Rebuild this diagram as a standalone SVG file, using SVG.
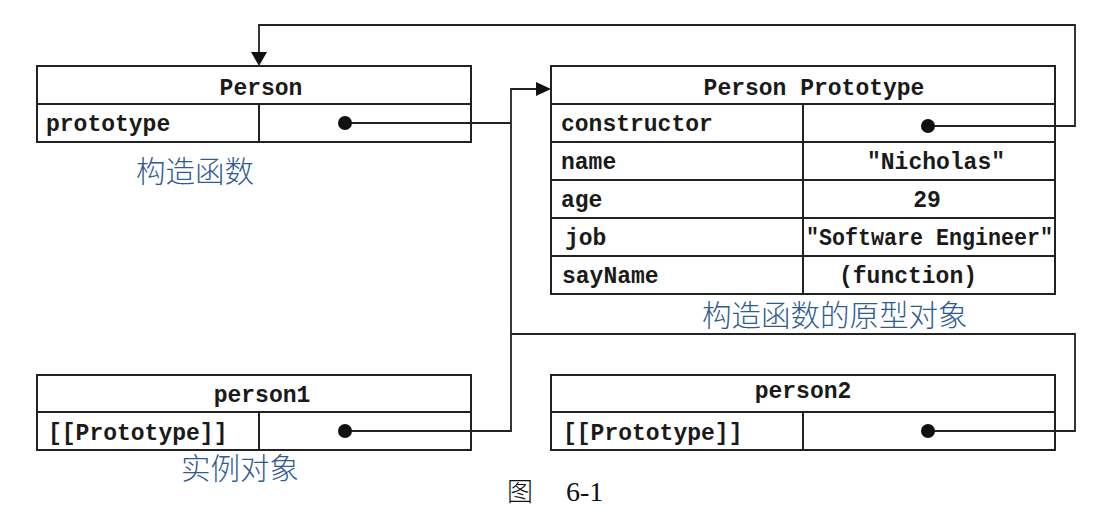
<svg xmlns="http://www.w3.org/2000/svg" width="1094" height="517" viewBox="0 0 1094 517">
<style>
.box{fill:none;stroke:#222;stroke-width:2}
.ln{fill:none;stroke:#222;stroke-width:1.8}
.m{font-family:"Liberation Mono","Courier New",monospace;font-weight:bold;font-size:23px;fill:#1a1a1a}
.c{text-anchor:middle}
.cn{font-family:"Noto Sans CJK SC","Noto Sans CJK JP",sans-serif;font-size:29.5px;font-weight:300;fill:#2f5b95}
.cap{font-family:"Liberation Serif","Noto Sans CJK SC",serif;font-size:28px;fill:#111}
.capz{font-family:"Noto Sans CJK SC",serif;font-size:26px;font-weight:300;fill:#111}
.dot{fill:#111}
.arr{fill:#111}
</style>
<rect width="1094" height="517" fill="#fff"/>
<g id="connectors">
<polyline class="ln" points="345,123 511,123"/>
<polyline class="ln" points="345,431 511,431 511,89 538,89"/>
<polygon class="arr" points="551,89 536,82 536,96"/>
<polyline class="ln" points="928,126 1075,126 1075,25 259,25 259,54"/>
<polygon class="arr" points="259,66 251,52 267,52"/>
<polyline class="ln" points="928,431 1075,431 1075,334 511,334"/>
<circle class="dot" cx="345" cy="123" r="7"/>
<circle class="dot" cx="928" cy="126" r="7"/>
<circle class="dot" cx="345" cy="431" r="7"/>
<circle class="dot" cx="928" cy="431" r="7"/>
</g>
<g id="person">
<rect class="box" x="37" y="66" width="434" height="76"/>
<line class="box" x1="37" y1="104" x2="471" y2="104"/>
<line class="box" x1="259" y1="104" x2="259" y2="142"/>
<text class="m c" x="261" y="95">Person</text>
<text class="m" x="46" y="131">prototype</text>
</g>
<g id="person-prototype">
<rect class="box" x="551" y="66" width="504" height="228"/>
<line class="box" x1="551" y1="104" x2="1055" y2="104"/>
<line class="box" x1="551" y1="142" x2="1055" y2="142"/>
<line class="box" x1="551" y1="180" x2="1055" y2="180"/>
<line class="box" x1="551" y1="218" x2="1055" y2="218"/>
<line class="box" x1="551" y1="256" x2="1055" y2="256"/>
<line class="box" x1="803" y1="104" x2="803" y2="294"/>
<text class="m c" x="814" y="95">Person Prototype</text>
<text class="m" x="561" y="131">constructor</text>
<text class="m" x="561" y="169">name</text>
<text class="m c" x="936" y="169">"Nicholas"</text>
<text class="m" x="561" y="207">age</text>
<text class="m c" x="927" y="207">29</text>
<text class="m" x="565" y="245">job</text>
<text class="m" x="806" y="245" textLength="247" lengthAdjust="spacingAndGlyphs">"Software Engineer"</text>
<text class="m" x="562" y="283">sayName</text>
<text class="m c" x="908" y="283">(function)</text>
</g>
<g id="person1">
<rect class="box" x="37" y="375" width="434" height="75"/>
<line class="box" x1="37" y1="412" x2="471" y2="412"/>
<line class="box" x1="259" y1="412" x2="259" y2="450"/>
<text class="m c" x="262" y="402">person1</text>
<text class="m" x="48" y="440">[[Prototype]]</text>
</g>
<g id="person2">
<rect class="box" x="551" y="375" width="504" height="75"/>
<line class="box" x1="551" y1="412" x2="1055" y2="412"/>
<line class="box" x1="803" y1="412" x2="803" y2="450"/>
<text class="m c" x="803" y="398">person2</text>
<text class="m" x="563" y="440">[[Prototype]]</text>
</g>
<g id="labels">
<text class="cn" x="136" y="182">构造函数</text>
<text class="cn" x="702" y="326">构造函数的原型对象</text>
<text class="cn" x="181" y="479">实例对象</text>
<text class="capz" x="507" y="501">图</text>
<text class="cap" x="566" y="501">6-1</text>
</g>
</svg>
